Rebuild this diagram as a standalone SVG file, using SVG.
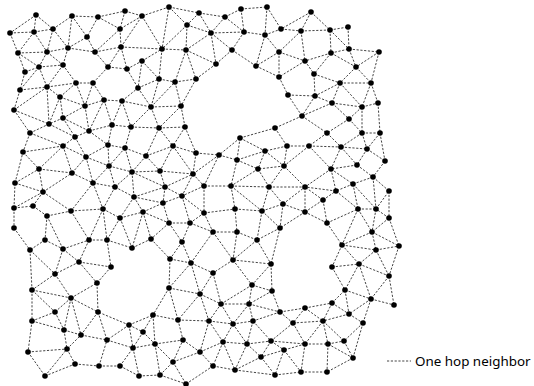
<svg xmlns="http://www.w3.org/2000/svg" width="534" height="386" viewBox="0 0 534 386">
<style>
.e{fill:none;stroke:#444;stroke-width:1;stroke-dasharray:2.2 1.6}
.n circle{fill:#000}
.lg{font-family:"Noto Sans","Open Sans",sans-serif;font-size:13.4px;fill:#000}
</style>
<rect width="534" height="386" fill="#fff"/>
<g id="connectors">
<path class="e" d="M36 15L10 33M36 15L34 32M36 15L53 29M10 33L34 32M34 32L53 29M10 33L18 53M34 32L18 53M34 32L47 52M53 29L47 52M53 29L68 48M53 29L72 16M72 16L68 48M72 16L98 17M72 16L87 37M98 17L87 37M98 17L125 11M98 17L120 29M125 11L120 29M125 11L142 16M142 16L120 29M142 16L169 7M142 16L162 49M120 29L121 47M95 52L120 29M121 47L142 16M121 47L162 49M169 7L187 25M169 7L162 49M169 7L199 13M199 13L187 25M187 25L162 49M187 25L186 50M162 49L186 50M199 13L211 33M199 13L225 17M187 25L211 33M211 33L225 17M225 17L241 9M225 17L244 32M241 9L244 32M241 9L267 7M267 7L265 35M267 7L281 29M244 32L265 35M265 35L281 29M281 29L301 31M301 31L311 12M311 12L281 29M311 12L330 30M330 30L348 27M301 31L330 30M211 33L232 50M244 32L232 50M211 33L216 64M232 50L216 64M232 50L256 66M265 35L279 52M301 31L279 52M301 31L305 61M279 52L305 61M330 30L331 53M348 27L349 49M330 30L349 49M331 53L349 49M349 49L379 52M331 53L305 61M331 53L356 67M349 49L356 67M379 52L356 67M379 52L371 83M279 52L256 66M279 52L279 77M305 61L279 77M305 61L314 74M331 53L314 74M356 67L371 83M314 74L340 83M356 67L340 83M340 83L371 83M314 74L315 96M340 83L315 96M279 77L288 95M288 95L315 96M340 83L332 103M371 83L362 107M371 83L378 103M340 83L362 107M315 96L332 103M332 103L362 107M362 107L378 103M315 96L302 116M332 103L302 116M288 95L302 116M332 103L349 119M362 107L349 119M378 103L380 133M362 107L362 133M349 119L362 133M302 116L327 133M349 119L327 133M362 133L380 133M302 116L275 128M275 128L287 146M275 128L240 138M327 133L309 146M287 146L309 146M327 133L341 147M362 133L341 147M362 133L367 149M380 133L367 149M380 133L385 161M367 149L385 161M341 147L367 149M309 146L341 147M341 147L357 165M367 149L357 165M385 161L373 177M357 165L373 177M357 165L331 169M341 147L331 169M309 146L331 169M309 146L284 166M287 146L284 166M287 146L265 151M240 138L265 151M240 138L219 155M240 138L237 160M265 151L237 160M219 155L237 160M265 151L258 169M265 151L284 166M284 166L258 169M237 160L258 169M258 169L231 186M237 160L231 186M258 169L269 187M284 166L269 187M284 166L305 187M331 169L305 187M331 169L336 191M331 169L353 184M373 177L353 184M373 177L389 191M353 184L336 191M336 191L305 187M269 187L305 187M204 186L231 186M231 186L269 187M256 66L279 77M265 35L256 66M211 33L244 32M186 50L211 33M186 50L216 64M196 79L216 64M186 50L175 82M186 50L196 79M175 82L196 79"/>
<path class="e" d="M18 53L47 52M18 53L25 72M18 53L39 67M47 52L39 67M47 52L68 48M47 52L63 65M68 48L63 65M68 48L87 37M87 37L95 52M68 48L95 52M95 52L108 67M95 52L121 47M121 47L108 67M108 67L127 69M121 47L127 69M127 69L142 61M142 61L162 49M142 61L159 79M162 49L159 79M159 79L175 82M25 72L39 67M39 67L63 65M25 72L20 90M39 67L47 87M63 65L47 87M63 65L76 83M20 90L47 87M47 87L60 97M76 83L60 97M47 87L76 83M76 83L93 83M93 83L85 106M76 83L85 106M60 97L85 106M93 83L104 100M85 106L104 100M104 100L122 101M122 101L138 88M108 67L93 83M127 69L138 88M142 61L138 88M138 88L159 79M138 88L151 107M159 79L151 107M151 107L175 82M122 101L151 107M151 107L181 106M175 82L181 106M196 79L181 106M39 67L20 90M20 90L14 110M14 110L47 87M47 87L49 124M60 97L49 124M14 110L49 124M14 110L30 133M30 133L49 124M60 97L63 118M63 118L49 124M63 118L85 106M63 118L75 137M49 124L75 137M85 106L89 131M63 118L89 131M104 100L89 131M104 100L112 125M122 101L112 125M122 101L131 127M112 125L131 127M151 107L131 127M151 107L159 128M131 127L159 128M181 106L159 128M181 106L185 127M159 128L185 127M185 127L196 153M185 127L173 146M159 128L173 146M173 146L196 153M89 131L112 125M89 131L75 137M75 137L63 146M89 131L108 145M112 125L108 145M108 145L125 148M131 127L125 148M125 148L146 156M159 128L146 156M173 146L146 156M108 145L86 157M75 137L86 157M63 146L86 157M30 133L63 146M30 133L23 152M23 152L63 146M23 152L39 169M63 146L39 169M63 146L72 173M86 157L72 173M86 157L109 166M108 145L109 166M125 148L109 166M125 148L132 172M146 156L132 172M146 156L160 171M173 146L160 171M173 146L193 174M196 153L193 174M196 153L219 155M193 174L204 186M193 174L219 155M204 186L219 155M15 183L23 152M15 183L39 169M15 183L43 192M39 169L43 192M39 169L72 173M43 192L72 173M72 173L93 183M93 183L109 166M109 166L115 187M93 183L115 187M109 166L132 172M115 187L132 172M132 172L160 171M132 172L134 197M115 187L134 197M160 171L165 187M132 172L165 187M165 187L134 197M165 187L182 196M160 171L193 174M165 187L193 174M193 174L182 196M204 186L182 196M204 186L204 213M86 157L93 183"/>
<path class="e" d="M43 192L14 208M43 192L33 206M43 192L71 211M14 208L33 206M33 206L47 216M14 208L14 228M47 216L71 211M71 211L103 209M103 209L120 218M120 218L143 212M143 212L163 203M134 197L143 212M134 197L120 218M115 187L103 209M93 183L103 209M93 183L71 211M182 196L163 203M182 196L204 213M163 203L169 223M169 223L190 223M204 213L190 223M182 196L190 223M143 212L151 239M169 223L151 239M169 223L182 242M190 223L182 242M182 242L170 259M182 242L191 263M170 259L191 263M47 216L45 240M45 240L30 250M45 240L63 249M14 228L30 250M71 211L89 240M47 216L63 249M89 240L107 240M103 209L89 240M103 209L107 240M120 218L107 240M107 240L132 248M120 218L132 248M132 248L151 239M63 249L89 240M63 249L79 262M89 240L79 262M79 262L111 267M107 240L111 267M79 262L55 274M63 249L55 274M30 250L55 274M30 250L32 290M55 274L32 290M55 274L71 298M79 262L97 283M111 267L97 283M71 298L97 283M32 290L71 298M32 290L55 312M71 298L55 312M71 298L98 312M97 283L98 312M32 290L32 321M55 312L32 321M55 312L64 330M71 298L64 330M71 298L81 335M64 330L81 335M98 312L81 335M98 312L107 340M81 335L107 340M32 321L64 330M32 321L28 352M64 330L67 349M28 352L45 376M45 376L67 349M45 376L75 364M67 349L75 364M67 349L81 335M28 352L67 349M75 364L99 366M99 366L107 340M99 366L120 366M107 340L133 348M120 366L133 348M129 325L107 340M129 325L143 332M129 325L133 348M143 332L133 348M129 325L153 315M143 332L153 315M153 315L155 344M143 332L155 344M133 348L155 344M133 348L139 376M120 366L139 376M139 376L160 375M155 344L160 375M155 344L173 362M160 375L173 362M173 362L183 340M155 344L183 340M153 315L178 320M178 320L183 340M178 320L209 321M183 340L200 352M173 362L200 352M173 362L186 384M169 288L153 315M169 288L178 320M169 288L200 294M200 294L178 320M170 259L169 288M191 263L169 288M191 263L200 294M151 239L170 259M129 325L98 312M190 223L213 232M191 263L213 232M191 263L213 273M213 273L200 294M204 213L213 232M209 321L200 352M160 375L186 384M186 384L213 366M15 183L14 208M143 212L132 248M143 212L169 223M165 187L163 203M134 197L163 203"/>
<path class="e" d="M231 186L235 209M204 213L235 209M235 209L262 211M262 211L283 204M283 204L305 212M305 212L323 200M323 200L336 191M323 200L327 223M305 212L280 228M283 204L280 228M262 211L280 228M262 211L257 240M280 228L257 240M235 209L237 232M237 232L257 240M213 232L237 232M213 232L233 260M237 232L233 260M257 240L233 260M257 240L271 264M233 260L271 264M280 228L271 264M233 260L213 273M233 260L252 285M271 264L252 285M271 264L272 291M252 285L272 291M213 273L221 304M200 294L221 304M252 285L249 304M221 304L249 304M252 285L221 304M272 291L280 312M249 304L280 312M272 291L249 304M280 312L305 308M305 308L332 303M332 303L345 290M345 290L371 299M371 299L394 305M332 303L349 314M345 290L349 314M371 299L349 314M371 299L363 323M349 314L363 323M349 314L323 321M332 303L323 321M305 308L323 321M305 308L293 323M280 312L293 323M293 323L323 321M280 312L253 321M249 304L253 321M221 304L233 324M249 304L233 324M233 324L253 321M209 321L233 324M209 321L221 304M200 294L209 321M209 321L223 342M233 324L223 342M233 324L247 344M253 321L247 344M253 321L271 341M293 323L271 341M293 323L305 344M323 321L305 344M323 321L328 344M323 321L344 341M363 323L344 341M363 323L353 358M344 341L353 358M328 344L344 341M305 344L328 344M271 341L305 344M271 341L284 350M305 344L284 350M247 344L271 341M223 342L247 344M200 352L223 342M200 352L213 366M223 342L213 366M213 366L235 370M223 342L235 370M247 344L235 370M247 344L261 357M271 341L261 357M284 350L261 357M261 357L235 370M261 357L275 375M284 350L275 375M284 350L301 372M275 375L301 372M301 372L327 372M305 344L301 372M328 344L327 372M353 358L327 372M328 344L353 358M235 370L275 375M262 211L269 187M283 204L269 187M283 204L305 187M305 212L305 187M323 200L305 187M336 191L358 209M327 223L358 209M358 209L376 209M376 209L389 191M389 218L376 209M389 191L389 218M358 209L372 232M376 209L372 232M389 218L372 232M327 223L342 245M372 232L342 245M342 245L376 250M372 232L376 250M372 232L399 246M389 218L399 246M376 250L399 246M342 245L359 264M376 250L359 264M332 267L359 264M342 245L332 267M359 264L389 276M376 250L389 276M399 246L389 276M359 264L345 290M332 267L345 290M359 264L371 299M389 276L371 299M389 276L394 305M327 223L305 212M353 184L358 209M353 184L376 209M373 177L376 209M231 186L262 211M358 209L342 245"/>
</g>
<g class="n">
<g id="n1"><circle cx="36" cy="15" r="2.8"/></g>
<g id="n2"><circle cx="10" cy="33" r="2.8"/></g>
<g id="n3"><circle cx="34" cy="32" r="2.8"/></g>
<g id="n4"><circle cx="53" cy="29" r="2.8"/></g>
<g id="n5"><circle cx="72" cy="16" r="2.8"/></g>
<g id="n6"><circle cx="98" cy="17" r="2.8"/></g>
<g id="n7"><circle cx="125" cy="11" r="2.8"/></g>
<g id="n8"><circle cx="142" cy="16" r="2.8"/></g>
<g id="n9"><circle cx="169" cy="7" r="2.8"/></g>
<g id="n10"><circle cx="199" cy="13" r="2.8"/></g>
<g id="n11"><circle cx="187" cy="25" r="2.8"/></g>
<g id="n12"><circle cx="120" cy="29" r="2.8"/></g>
<g id="n13"><circle cx="87" cy="37" r="2.8"/></g>
<g id="n14"><circle cx="225" cy="17" r="2.8"/></g>
<g id="n15"><circle cx="241" cy="9" r="2.8"/></g>
<g id="n16"><circle cx="267" cy="7" r="2.8"/></g>
<g id="n17"><circle cx="311" cy="12" r="2.8"/></g>
<g id="n18"><circle cx="211" cy="33" r="2.8"/></g>
<g id="n19"><circle cx="244" cy="32" r="2.8"/></g>
<g id="n20"><circle cx="265" cy="35" r="2.8"/></g>
<g id="n21"><circle cx="281" cy="29" r="2.8"/></g>
<g id="n22"><circle cx="301" cy="31" r="2.8"/></g>
<g id="n23"><circle cx="330" cy="30" r="2.8"/></g>
<g id="n24"><circle cx="348" cy="27" r="2.8"/></g>
<g id="n25"><circle cx="18" cy="53" r="2.8"/></g>
<g id="n26"><circle cx="47" cy="52" r="2.8"/></g>
<g id="n27"><circle cx="68" cy="48" r="2.8"/></g>
<g id="n28"><circle cx="95" cy="52" r="2.8"/></g>
<g id="n29"><circle cx="121" cy="47" r="2.8"/></g>
<g id="n30"><circle cx="162" cy="49" r="2.8"/></g>
<g id="n31"><circle cx="186" cy="50" r="2.8"/></g>
<g id="n32"><circle cx="142" cy="61" r="2.8"/></g>
<g id="n33"><circle cx="232" cy="50" r="2.8"/></g>
<g id="n34"><circle cx="279" cy="52" r="2.8"/></g>
<g id="n35"><circle cx="331" cy="53" r="2.8"/></g>
<g id="n36"><circle cx="349" cy="49" r="2.8"/></g>
<g id="n37"><circle cx="379" cy="52" r="2.8"/></g>
<g id="n38"><circle cx="216" cy="64" r="2.8"/></g>
<g id="n39"><circle cx="256" cy="66" r="2.8"/></g>
<g id="n40"><circle cx="305" cy="61" r="2.8"/></g>
<g id="n41"><circle cx="356" cy="67" r="2.8"/></g>
<g id="n42"><circle cx="25" cy="72" r="2.8"/></g>
<g id="n43"><circle cx="39" cy="67" r="2.8"/></g>
<g id="n44"><circle cx="63" cy="65" r="2.8"/></g>
<g id="n45"><circle cx="108" cy="67" r="2.8"/></g>
<g id="n46"><circle cx="127" cy="69" r="2.8"/></g>
<g id="n47"><circle cx="159" cy="79" r="2.8"/></g>
<g id="n48"><circle cx="175" cy="82" r="2.8"/></g>
<g id="n49"><circle cx="196" cy="79" r="2.8"/></g>
<g id="n50"><circle cx="76" cy="83" r="2.8"/></g>
<g id="n51"><circle cx="93" cy="83" r="2.8"/></g>
<g id="n52"><circle cx="138" cy="88" r="2.8"/></g>
<g id="n53"><circle cx="20" cy="90" r="2.8"/></g>
<g id="n54"><circle cx="47" cy="87" r="2.8"/></g>
<g id="n55"><circle cx="60" cy="97" r="2.8"/></g>
<g id="n56"><circle cx="279" cy="77" r="2.8"/></g>
<g id="n57"><circle cx="314" cy="74" r="2.8"/></g>
<g id="n58"><circle cx="340" cy="83" r="2.8"/></g>
<g id="n59"><circle cx="371" cy="83" r="2.8"/></g>
<g id="n60"><circle cx="288" cy="95" r="2.8"/></g>
<g id="n61"><circle cx="315" cy="96" r="2.8"/></g>
<g id="n62"><circle cx="104" cy="100" r="2.8"/></g>
<g id="n63"><circle cx="122" cy="101" r="2.8"/></g>
<g id="n64"><circle cx="14" cy="110" r="2.8"/></g>
<g id="n65"><circle cx="85" cy="106" r="2.8"/></g>
<g id="n66"><circle cx="151" cy="107" r="2.8"/></g>
<g id="n67"><circle cx="181" cy="106" r="2.8"/></g>
<g id="n68"><circle cx="332" cy="103" r="2.8"/></g>
<g id="n69"><circle cx="362" cy="107" r="2.8"/></g>
<g id="n70"><circle cx="378" cy="103" r="2.8"/></g>
<g id="n71"><circle cx="302" cy="116" r="2.8"/></g>
<g id="n72"><circle cx="349" cy="119" r="2.8"/></g>
<g id="n73"><circle cx="63" cy="118" r="2.8"/></g>
<g id="n74"><circle cx="112" cy="125" r="2.8"/></g>
<g id="n75"><circle cx="131" cy="127" r="2.8"/></g>
<g id="n76"><circle cx="159" cy="128" r="2.8"/></g>
<g id="n77"><circle cx="185" cy="127" r="2.8"/></g>
<g id="n78"><circle cx="49" cy="124" r="2.8"/></g>
<g id="n79"><circle cx="275" cy="128" r="2.8"/></g>
<g id="n80"><circle cx="30" cy="133" r="2.8"/></g>
<g id="n81"><circle cx="89" cy="131" r="2.8"/></g>
<g id="n82"><circle cx="75" cy="137" r="2.8"/></g>
<g id="n83"><circle cx="63" cy="146" r="2.8"/></g>
<g id="n84"><circle cx="108" cy="145" r="2.8"/></g>
<g id="n85"><circle cx="125" cy="148" r="2.8"/></g>
<g id="n86"><circle cx="173" cy="146" r="2.8"/></g>
<g id="n87"><circle cx="196" cy="153" r="2.8"/></g>
<g id="n88"><circle cx="23" cy="152" r="2.8"/></g>
<g id="n89"><circle cx="86" cy="157" r="2.8"/></g>
<g id="n90"><circle cx="146" cy="156" r="2.8"/></g>
<g id="n91"><circle cx="327" cy="133" r="2.8"/></g>
<g id="n92"><circle cx="362" cy="133" r="2.8"/></g>
<g id="n93"><circle cx="380" cy="133" r="2.8"/></g>
<g id="n94"><circle cx="240" cy="138" r="2.8"/></g>
<g id="n95"><circle cx="287" cy="146" r="2.8"/></g>
<g id="n96"><circle cx="309" cy="146" r="2.8"/></g>
<g id="n97"><circle cx="341" cy="147" r="2.8"/></g>
<g id="n98"><circle cx="367" cy="149" r="2.8"/></g>
<g id="n99"><circle cx="219" cy="155" r="2.8"/></g>
<g id="n100"><circle cx="265" cy="151" r="2.8"/></g>
<g id="n101"><circle cx="109" cy="166" r="2.8"/></g>
<g id="n102"><circle cx="39" cy="169" r="2.8"/></g>
<g id="n103"><circle cx="72" cy="173" r="2.8"/></g>
<g id="n104"><circle cx="132" cy="172" r="2.8"/></g>
<g id="n105"><circle cx="160" cy="171" r="2.8"/></g>
<g id="n106"><circle cx="193" cy="174" r="2.8"/></g>
<g id="n107"><circle cx="15" cy="183" r="2.8"/></g>
<g id="n108"><circle cx="93" cy="183" r="2.8"/></g>
<g id="n109"><circle cx="115" cy="187" r="2.8"/></g>
<g id="n110"><circle cx="165" cy="187" r="2.8"/></g>
<g id="n111"><circle cx="204" cy="186" r="2.8"/></g>
<g id="n112"><circle cx="43" cy="192" r="2.8"/></g>
<g id="n113"><circle cx="237" cy="160" r="2.8"/></g>
<g id="n114"><circle cx="385" cy="161" r="2.8"/></g>
<g id="n115"><circle cx="357" cy="165" r="2.8"/></g>
<g id="n116"><circle cx="284" cy="166" r="2.8"/></g>
<g id="n117"><circle cx="258" cy="169" r="2.8"/></g>
<g id="n118"><circle cx="331" cy="169" r="2.8"/></g>
<g id="n119"><circle cx="373" cy="177" r="2.8"/></g>
<g id="n120"><circle cx="353" cy="184" r="2.8"/></g>
<g id="n121"><circle cx="231" cy="186" r="2.8"/></g>
<g id="n122"><circle cx="269" cy="187" r="2.8"/></g>
<g id="n123"><circle cx="305" cy="187" r="2.8"/></g>
<g id="n124"><circle cx="336" cy="191" r="2.8"/></g>
<g id="n125"><circle cx="389" cy="191" r="2.8"/></g>
<g id="n126"><circle cx="134" cy="197" r="2.8"/></g>
<g id="n127"><circle cx="182" cy="196" r="2.8"/></g>
<g id="n128"><circle cx="14" cy="208" r="2.8"/></g>
<g id="n129"><circle cx="33" cy="206" r="2.8"/></g>
<g id="n130"><circle cx="47" cy="216" r="2.8"/></g>
<g id="n131"><circle cx="71" cy="211" r="2.8"/></g>
<g id="n132"><circle cx="103" cy="209" r="2.8"/></g>
<g id="n133"><circle cx="120" cy="218" r="2.8"/></g>
<g id="n134"><circle cx="143" cy="212" r="2.8"/></g>
<g id="n135"><circle cx="163" cy="203" r="2.8"/></g>
<g id="n136"><circle cx="204" cy="213" r="2.8"/></g>
<g id="n137"><circle cx="14" cy="228" r="2.8"/></g>
<g id="n138"><circle cx="169" cy="223" r="2.8"/></g>
<g id="n139"><circle cx="190" cy="223" r="2.8"/></g>
<g id="n140"><circle cx="235" cy="209" r="2.8"/></g>
<g id="n141"><circle cx="262" cy="211" r="2.8"/></g>
<g id="n142"><circle cx="283" cy="204" r="2.8"/></g>
<g id="n143"><circle cx="323" cy="200" r="2.8"/></g>
<g id="n144"><circle cx="305" cy="212" r="2.8"/></g>
<g id="n145"><circle cx="358" cy="209" r="2.8"/></g>
<g id="n146"><circle cx="376" cy="209" r="2.8"/></g>
<g id="n147"><circle cx="389" cy="218" r="2.8"/></g>
<g id="n148"><circle cx="213" cy="232" r="2.8"/></g>
<g id="n149"><circle cx="237" cy="232" r="2.8"/></g>
<g id="n150"><circle cx="280" cy="228" r="2.8"/></g>
<g id="n151"><circle cx="327" cy="223" r="2.8"/></g>
<g id="n152"><circle cx="372" cy="232" r="2.8"/></g>
<g id="n153"><circle cx="45" cy="240" r="2.8"/></g>
<g id="n154"><circle cx="89" cy="240" r="2.8"/></g>
<g id="n155"><circle cx="107" cy="240" r="2.8"/></g>
<g id="n156"><circle cx="151" cy="239" r="2.8"/></g>
<g id="n157"><circle cx="30" cy="250" r="2.8"/></g>
<g id="n158"><circle cx="63" cy="249" r="2.8"/></g>
<g id="n159"><circle cx="132" cy="248" r="2.8"/></g>
<g id="n160"><circle cx="182" cy="242" r="2.8"/></g>
<g id="n161"><circle cx="79" cy="262" r="2.8"/></g>
<g id="n162"><circle cx="111" cy="267" r="2.8"/></g>
<g id="n163"><circle cx="170" cy="259" r="2.8"/></g>
<g id="n164"><circle cx="191" cy="263" r="2.8"/></g>
<g id="n165"><circle cx="257" cy="240" r="2.8"/></g>
<g id="n166"><circle cx="342" cy="245" r="2.8"/></g>
<g id="n167"><circle cx="376" cy="250" r="2.8"/></g>
<g id="n168"><circle cx="399" cy="246" r="2.8"/></g>
<g id="n169"><circle cx="233" cy="260" r="2.8"/></g>
<g id="n170"><circle cx="271" cy="264" r="2.8"/></g>
<g id="n171"><circle cx="332" cy="267" r="2.8"/></g>
<g id="n172"><circle cx="359" cy="264" r="2.8"/></g>
<g id="n173"><circle cx="55" cy="274" r="2.8"/></g>
<g id="n174"><circle cx="97" cy="283" r="2.8"/></g>
<g id="n175"><circle cx="32" cy="290" r="2.8"/></g>
<g id="n176"><circle cx="169" cy="288" r="2.8"/></g>
<g id="n177"><circle cx="71" cy="298" r="2.8"/></g>
<g id="n178"><circle cx="200" cy="294" r="2.8"/></g>
<g id="n179"><circle cx="213" cy="273" r="2.8"/></g>
<g id="n180"><circle cx="389" cy="276" r="2.8"/></g>
<g id="n181"><circle cx="252" cy="285" r="2.8"/></g>
<g id="n182"><circle cx="272" cy="291" r="2.8"/></g>
<g id="n183"><circle cx="345" cy="290" r="2.8"/></g>
<g id="n184"><circle cx="371" cy="299" r="2.8"/></g>
<g id="n185"><circle cx="394" cy="305" r="2.8"/></g>
<g id="n186"><circle cx="221" cy="304" r="2.8"/></g>
<g id="n187"><circle cx="249" cy="304" r="2.8"/></g>
<g id="n188"><circle cx="332" cy="303" r="2.8"/></g>
<g id="n189"><circle cx="305" cy="308" r="2.8"/></g>
<g id="n190"><circle cx="280" cy="312" r="2.8"/></g>
<g id="n191"><circle cx="349" cy="314" r="2.8"/></g>
<g id="n192"><circle cx="55" cy="312" r="2.8"/></g>
<g id="n193"><circle cx="98" cy="312" r="2.8"/></g>
<g id="n194"><circle cx="32" cy="321" r="2.8"/></g>
<g id="n195"><circle cx="153" cy="315" r="2.8"/></g>
<g id="n196"><circle cx="178" cy="320" r="2.8"/></g>
<g id="n197"><circle cx="209" cy="321" r="2.8"/></g>
<g id="n198"><circle cx="129" cy="325" r="2.8"/></g>
<g id="n199"><circle cx="143" cy="332" r="2.8"/></g>
<g id="n200"><circle cx="64" cy="330" r="2.8"/></g>
<g id="n201"><circle cx="233" cy="324" r="2.8"/></g>
<g id="n202"><circle cx="253" cy="321" r="2.8"/></g>
<g id="n203"><circle cx="293" cy="323" r="2.8"/></g>
<g id="n204"><circle cx="323" cy="321" r="2.8"/></g>
<g id="n205"><circle cx="363" cy="323" r="2.8"/></g>
<g id="n206"><circle cx="81" cy="335" r="2.8"/></g>
<g id="n207"><circle cx="107" cy="340" r="2.8"/></g>
<g id="n208"><circle cx="183" cy="340" r="2.8"/></g>
<g id="n209"><circle cx="155" cy="344" r="2.8"/></g>
<g id="n210"><circle cx="133" cy="348" r="2.8"/></g>
<g id="n211"><circle cx="67" cy="349" r="2.8"/></g>
<g id="n212"><circle cx="28" cy="352" r="2.8"/></g>
<g id="n213"><circle cx="200" cy="352" r="2.8"/></g>
<g id="n214"><circle cx="223" cy="342" r="2.8"/></g>
<g id="n215"><circle cx="247" cy="344" r="2.8"/></g>
<g id="n216"><circle cx="271" cy="341" r="2.8"/></g>
<g id="n217"><circle cx="305" cy="344" r="2.8"/></g>
<g id="n218"><circle cx="328" cy="344" r="2.8"/></g>
<g id="n219"><circle cx="344" cy="341" r="2.8"/></g>
<g id="n220"><circle cx="284" cy="350" r="2.8"/></g>
<g id="n221"><circle cx="261" cy="357" r="2.8"/></g>
<g id="n222"><circle cx="353" cy="358" r="2.8"/></g>
<g id="n223"><circle cx="173" cy="362" r="2.8"/></g>
<g id="n224"><circle cx="75" cy="364" r="2.8"/></g>
<g id="n225"><circle cx="99" cy="366" r="2.8"/></g>
<g id="n226"><circle cx="120" cy="366" r="2.8"/></g>
<g id="n227"><circle cx="45" cy="376" r="2.8"/></g>
<g id="n228"><circle cx="139" cy="376" r="2.8"/></g>
<g id="n229"><circle cx="160" cy="375" r="2.8"/></g>
<g id="n230"><circle cx="186" cy="384" r="2.8"/></g>
<g id="n231"><circle cx="213" cy="366" r="2.8"/></g>
<g id="n232"><circle cx="235" cy="370" r="2.8"/></g>
<g id="n233"><circle cx="275" cy="375" r="2.8"/></g>
<g id="n234"><circle cx="301" cy="372" r="2.8"/></g>
<g id="n235"><circle cx="327" cy="372" r="2.8"/></g>
</g>
<g id="legend">
<path class="e" d="M387 361H411"/>
<text class="lg" x="415" y="366">One hop neighbor</text>
</g>
</svg>
